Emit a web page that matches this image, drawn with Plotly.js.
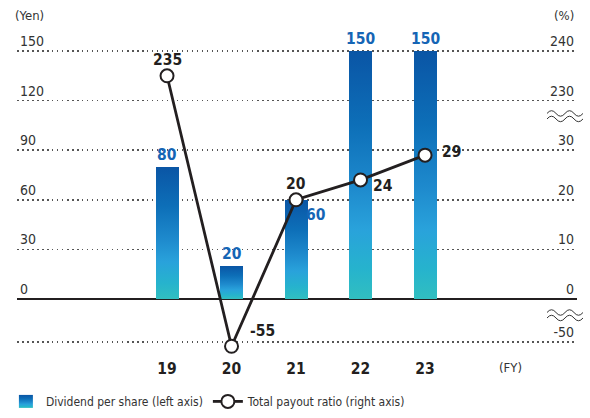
<!DOCTYPE html>
<html>
<head>
<meta charset="utf-8">
<script src="https://cdn.plot.ly/plotly-3.0.1.min.js"></script>
<style>
  html, body { margin: 0; padding: 0; background: #fff; }
  #chart { width: 590px; height: 418px; }
</style>
</head>
<body>
<div id="chart"></div>
<script>
// ---- data ----
const fiscalYears = [19, 20, 21, 22, 23];
const dividendPerShare = [80, 20, 60, 150, 150];          // Yen (left axis)
const totalPayoutRatio = [235, -55, 20, 24, 29];           // % (right axis, broken scale)
const rightTickValues = [-50, 0, 10, 20, 30, 230, 240];    // % labels on right axis
const leftTickValues = [0, 30, 60, 90, 120, 150];          // Yen labels on left axis

// Broken right-axis scale mapped onto the left (Yen) scale
function ratioToAxis(p) {
  if (p >= 200) return 120 + (p - 230) * 3;
  if (p >= 0) return p * 3;
  return p * 0.52;
}

const FONT = '"Liberation Sans Narrow", "Arial Narrow", "DejaVu Sans Condensed", sans-serif';
const TXT = '#333333';
const BLUE = '#1565b5';

const ratioMapped = totalPayoutRatio.map(ratioToAxis);

const bars = {
  type: 'bar',
  name: 'Dividend per share (left axis)',
  x: fiscalYears,
  y: dividendPerShare,
  width: 0.357,
  marker: { color: '#1f7fc6', line: { width: 0 } },
  hoverinfo: 'x+y',
  yaxis: 'y'
};

const line = {
  type: 'scatter',
  mode: 'lines+markers',
  name: 'Total payout ratio (right axis)',
  x: fiscalYears,
  y: ratioMapped,
  text: totalPayoutRatio.map(String),
  hoverinfo: 'x+text',
  line: { color: '#231f20', width: 2.8 },
  marker: { symbol: 'circle', size: 13, color: '#ffffff', line: { color: '#231f20', width: 2 } },
  yaxis: 'y',
  cliponaxis: false
};

// Right axis (overlay, same range) carrying gridlines and % labels
const rightAxisTrace = {
  type: 'scatter', x: [fiscalYears[0]], y: [0], yaxis: 'y2',
  mode: 'markers', marker: { opacity: 0 }, showlegend: false, hoverinfo: 'skip'
};

const annotations = [];
// bar value labels
dividendPerShare.forEach((v, i) => {
  const side = (v === 60);
  annotations.push({
    x: fiscalYears[i], y: v, xref: 'x', yref: 'y',
    text: '<b>' + v + '</b>', showarrow: false,
    font: { family: FONT, size: 15.5, color: BLUE },
    xanchor: 'center', yanchor: side ? 'middle' : 'bottom',
    xshift: side ? 20 : 0, yshift: side ? -15 : 1
  });
});
// payout ratio labels
const ratioPlacement = [
  { xs: 0, ys: 16 }, { xs: 31, ys: 15 }, { xs: 0, ys: 16 }, { xs: 22, ys: -6 }, { xs: 26, ys: 3 }
];
totalPayoutRatio.forEach((p, i) => {
  annotations.push({
    x: fiscalYears[i], y: ratioMapped[i], xref: 'x', yref: 'y',
    text: '<b>' + p + '</b>', showarrow: false,
    font: { family: FONT, size: 15.5, color: '#231f20' },
    xanchor: 'center', yanchor: 'middle',
    xshift: ratioPlacement[i].xs, yshift: ratioPlacement[i].ys
  });
});

const W = 590, H = 418, ML = 17, MR = 13, MT = 28, MB = 62;
const PW = W - ML - MR, PH = H - MT - MB;
function px2paperX(px) { return (px - ML) / PW; }
function px2paperY(py) { return (H - MB - py) / PH; }

// unit labels
annotations.push({ x: px2paperX(13), y: px2paperY(15), xref: 'paper', yref: 'paper', text: '(Yen)', showarrow: false,
  xanchor: 'left', yanchor: 'middle', font: { family: FONT, size: 13, color: TXT } });
annotations.push({ xref: 'paper', yref: 'paper', x: px2paperX(576), y: px2paperY(15), text: '(%)', showarrow: false,
  xanchor: 'right', yanchor: 'middle', font: { family: FONT, size: 13, color: TXT } });
annotations.push({ xref: 'x', yref: 'paper', x: 24.32, y: 0, text: '(FY)', showarrow: false,
  xanchor: 'center', yanchor: 'top', yshift: -2, font: { family: FONT, size: 13, color: TXT } });

// broken-axis wave marks
const wavePath = 'M -18,2.5 Q -13.5,8 -9,2.5 T 0,2.5 T 9,2.5 T 18,2.5 M -18,-3 Q -13.5,2.5 -9,-3 T 0,-3 T 9,-3 T 18,-3';
const shapes = [110.7, -9.7].map(yv => ({
  type: 'path', xref: 'paper', yref: 'y', xsizemode: 'pixel', ysizemode: 'pixel',
  xanchor: px2paperX(565), yanchor: yv, path: wavePath,
  line: { color: '#333333', width: 1 }, fillcolor: 'rgba(0,0,0,0)', layer: 'above'
}));

const yRange = [-34.5, 163.9];
const layout = {
  width: W, height: H,
  margin: { l: ML, r: MR, t: MT, b: MB, pad: 0 },
  paper_bgcolor: '#ffffff', plot_bgcolor: '#ffffff',
  font: { family: FONT, size: 14, color: TXT },
  showlegend: true,
  legend: {
    orientation: 'h', xref: 'container', yref: 'container',
    x: 0.01, y: 0.005, xanchor: 'left', yanchor: 'bottom',
    font: { family: FONT, size: 12, color: TXT },
    itemwidth: 30, tracegroupgap: 0, bgcolor: 'rgba(0,0,0,0)'
  },
  xaxis: {
    range: [16.674, 25.356], tickvals: fiscalYears, ticktext: fiscalYears.map(v => '<b>' + v + '</b>'),
    tickfont: { family: FONT, size: 15.5, color: '#231f20' },
    showgrid: false, zeroline: false, showline: false, ticks: '', ticklabelstandoff: 1, fixedrange: true
  },
  yaxis: {
    range: yRange, tickvals: leftTickValues, ticktext: leftTickValues.map(String),
    ticklabelposition: 'inside top', tickfont: { family: FONT, size: 14, color: TXT },
    showgrid: false, zeroline: true, zerolinecolor: '#231f20', zerolinewidth: 2,
    showline: false, ticks: '', fixedrange: true
  },
  yaxis2: {
    overlaying: 'y', side: 'right', range: yRange,
    tickvals: rightTickValues.map(ratioToAxis), ticktext: rightTickValues.map(String),
    ticklabelposition: 'inside top', tickfont: { family: FONT, size: 14, color: TXT },
    showgrid: true, gridcolor: '#555555', gridwidth: 1.5, griddash: '1.5px,3.5px',
    zeroline: false, showline: false, ticks: '', fixedrange: true
  },
  annotations: annotations,
  shapes: shapes,
  bargap: 0
};

Plotly.newPlot('chart', [rightAxisTrace, bars, line], layout, { displayModeBar: false, staticPlot: true })
.then(gd => {
  const svg = gd.querySelector('svg.main-svg');
  const ns = 'http://www.w3.org/2000/svg';
  let defs = svg.querySelector('defs');
  if (!defs) { defs = document.createElementNS(ns, 'defs'); svg.insertBefore(defs, svg.firstChild); }
  const grad = document.createElementNS(ns, 'linearGradient');
  grad.setAttribute('id', 'barGrad');
  grad.setAttribute('x1', '0'); grad.setAttribute('y1', '0');
  grad.setAttribute('x2', '0'); grad.setAttribute('y2', '1');
  [['0', '#0a55a5'], ['0.3', '#0d6fb8'], ['0.55', '#1e8acd'], ['0.72', '#29a2db'],
   ['0.88', '#26b3cd'], ['1', '#31bfc0']].forEach(([o, c]) => {
    const s = document.createElementNS(ns, 'stop');
    s.setAttribute('offset', o); s.setAttribute('stop-color', c);
    grad.appendChild(s);
  });
  defs.appendChild(grad);
  gd.querySelectorAll('.barlayer .point path').forEach(p => { p.style.fill = 'url(#barGrad)'; });
  gd.querySelectorAll('.legend .traces').forEach(t => {
    const txt = t.querySelector('.legendtext');
    if (txt && txt.textContent.indexOf('Dividend') === 0) {
      t.querySelectorAll('.legendpoints path').forEach(p => {
        p.setAttribute('d', 'M-7,-6.5h14v13h-14z');
        p.style.fill = 'url(#barGrad)';
      });
    }
  });
});
</script>
</body>
</html>
